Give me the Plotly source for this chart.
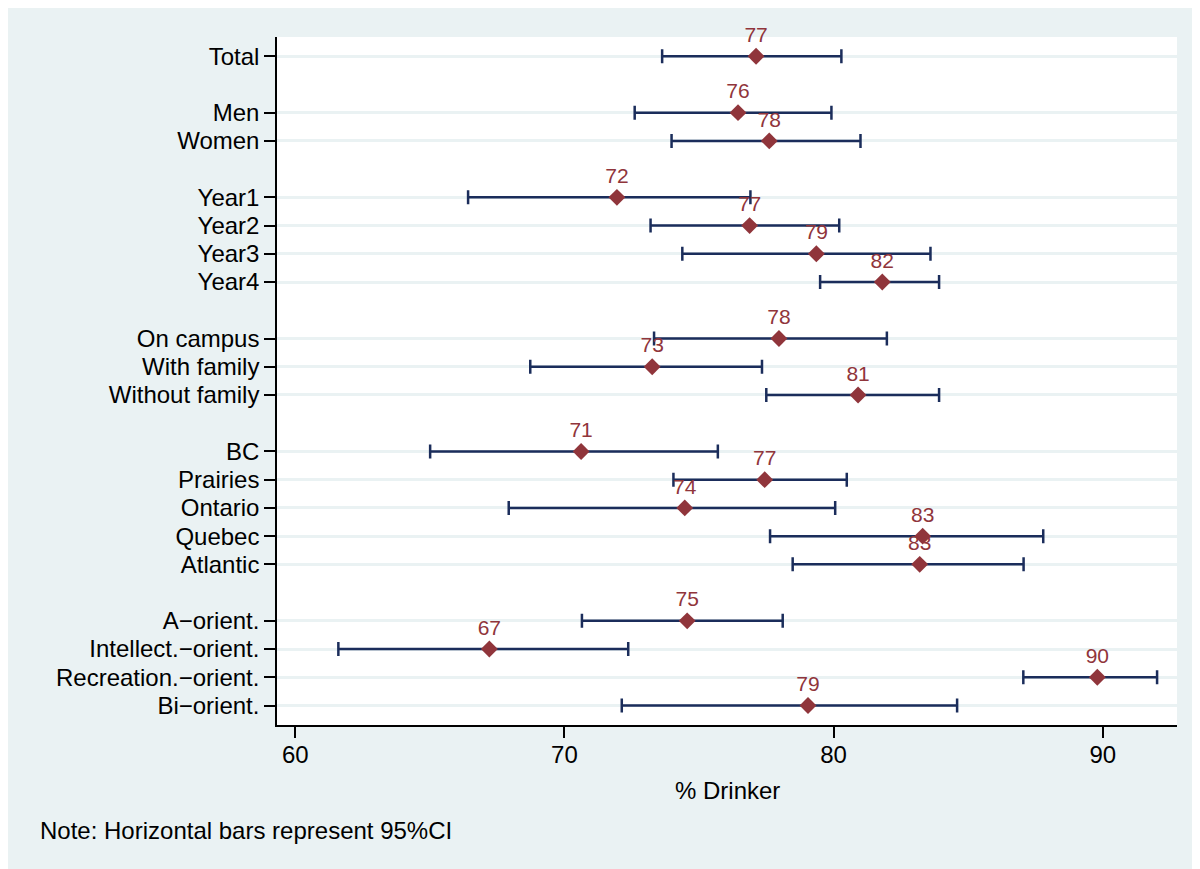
import plotly.graph_objects as go

categories = ["Total", "Men", "Women", "Year1", "Year2", "Year3", "Year4",
              "On campus", "With family", "Without family",
              "BC", "Prairies", "Ontario", "Quebec", "Atlantic",
              "A\u2212orient.", "Intellect.\u2212orient.", "Recreation.\u2212orient.", "Bi\u2212orient."]
# row positions (blank rows separate the groups)
positions = [0, 2, 3, 5, 6, 7, 8, 10, 11, 12, 14, 15, 16, 17, 18, 20, 21, 22, 23]
estimate = [77.12, 76.45, 77.61, 71.95, 76.88, 79.36, 81.81,
            77.97, 73.26, 80.91,
            70.62, 77.44, 74.47, 83.31, 83.20,
            74.56, 67.21, 89.80, 79.05]
ci_low = [73.63, 72.61, 73.98, 66.42, 73.20, 74.38, 79.50,
          73.33, 68.73, 77.50,
          65.01, 74.05, 67.93, 77.64, 78.48,
          70.65, 61.60, 87.05, 72.13]
ci_high = [80.29, 79.92, 81.00, 76.91, 80.21, 83.60, 83.92,
           81.98, 77.34, 83.92,
           75.70, 80.49, 80.06, 87.79, 87.06,
           78.11, 72.37, 92.02, 84.59]
x_ticks = [60, 70, 80, 90]

labels = [f"{round(v):d}" for v in estimate]
err_plus = [h - e for h, e in zip(ci_high, estimate)]
err_minus = [e - l for e, l in zip(estimate, ci_low)]

NAVY = "#1B2D5B"
MAROON = "#90353B"
BG = "#EAF2F3"
FONT = "Liberation Sans, Arial, sans-serif"

fig = go.Figure()
fig.add_trace(go.Scatter(
    x=estimate, y=positions, mode="markers+text",
    text=labels, textposition="top center",
    textfont=dict(color=MAROON, size=21, family=FONT),
    marker=dict(symbol="diamond", size=13, color=MAROON),
    error_x=dict(type="data", symmetric=False, array=err_plus, arrayminus=err_minus,
                 color=NAVY, thickness=2.5, width=7),
    showlegend=False, cliponaxis=False,
))

W, H = 1200, 869
L, R, T, B = 269, 31, 29, 152
pw, ph = W - L - R, H - T - B

def px_x(p):
    return (p - L) / pw

def px_y(p):
    return (H - B - p) / ph

fig.update_layout(
    width=W, height=H,
    margin=dict(l=L, r=R, t=T, b=B),
    paper_bgcolor=BG, plot_bgcolor="white",
    font=dict(family=FONT, size=24, color="black"),
    xaxis=dict(range=[59.32, 92.76], tickvals=x_ticks, ticks="outside", ticklen=11,
               tickwidth=1.5, tickcolor="black", showgrid=False, zeroline=False,
               showline=True, linecolor="black", linewidth=1.5, ticklabelstandoff=-4,
               tickfont=dict(size=24, color="black")),
    yaxis=dict(range=[23.69, -0.68], tickvals=positions, ticktext=categories,
               ticks="outside", ticklen=11, tickwidth=1.5, tickcolor="black",
               showgrid=True, gridcolor=BG, gridwidth=2.5, zeroline=False,
               showline=True, linecolor="black", linewidth=1.5,
               tickfont=dict(size=24, color="black")),
    annotations=[
        dict(text="% Drinker", xref="paper", yref="paper", x=0.5, y=px_y(782),
             xanchor="center", yanchor="middle", showarrow=False,
             font=dict(size=24, color="black", family=FONT)),
        dict(text="Note: Horizontal bars represent 95%CI", xref="paper", yref="paper",
             x=px_x(30), y=px_y(822), xanchor="left", yanchor="middle", showarrow=False,
             font=dict(size=24, color="black", family=FONT)),
    ],
)

fig.write_html("out.html")
